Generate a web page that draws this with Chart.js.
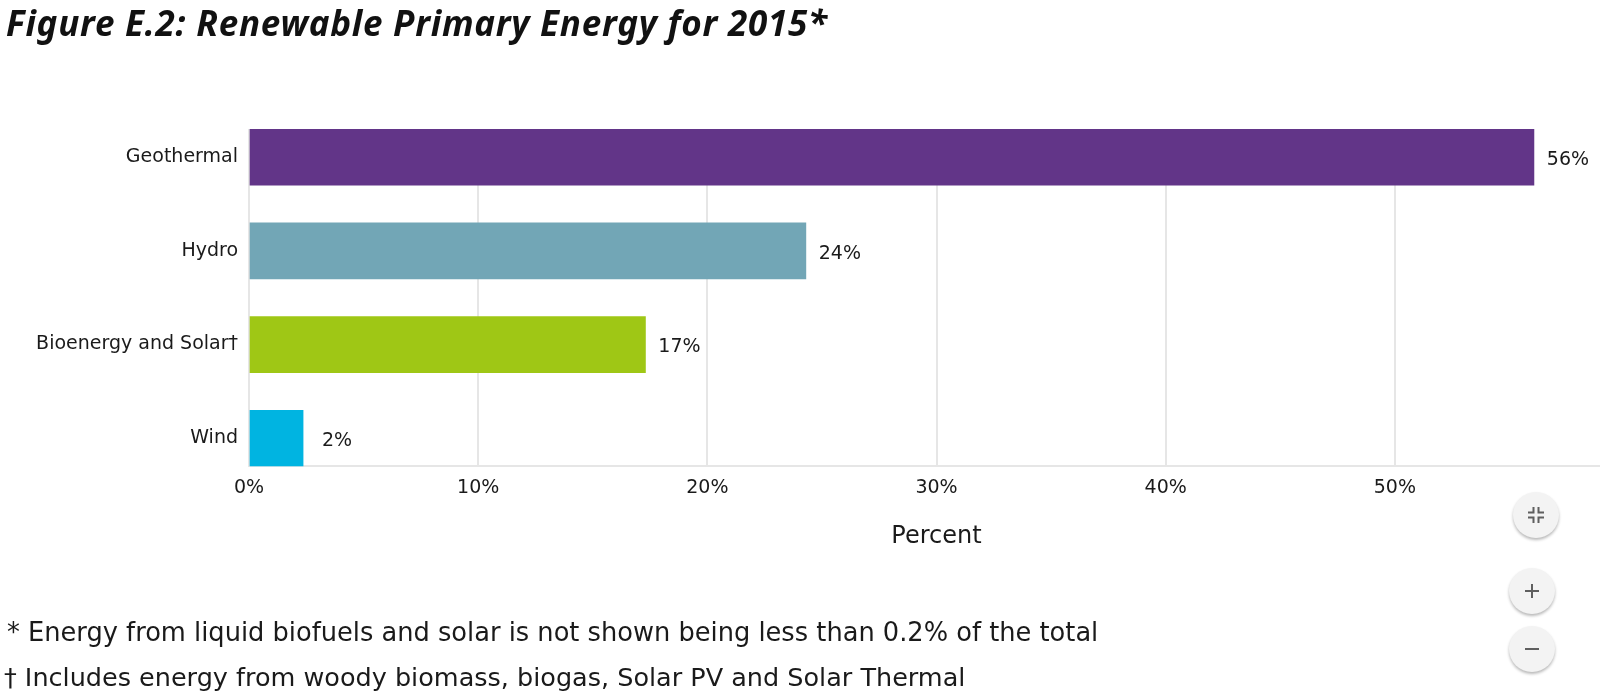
<!DOCTYPE html>
<html>
<head>
<meta charset="utf-8">
<script src="https://cdn.jsdelivr.net/npm/chart.js@4"></script>
<style>
  html, body { margin: 0; padding: 0; background: #fff; }
  body { width: 1600px; height: 699px; position: relative; overflow: hidden; font-family: "DejaVu Sans", sans-serif; color: #1a1a1a; }
  #wrap { position: absolute; left: 0; top: 0; width: 1624px; height: 699px; }
  h1 { position: absolute; left: 6px; top: -1px; margin: 0; font-family: "Noto Sans", sans-serif; font-size: 35px; letter-spacing: .75px; font-style: italic; font-weight: 700; color: #111; white-space: nowrap; }
  .note { position: absolute; margin: 0; font-size: 25.7px; white-space: nowrap; }
  .btn { position: absolute; width: 46px; height: 46px; border-radius: 50%; background: #f3f3f3; box-shadow: 0 2px 3px rgba(0,0,0,.28); }
  .btn svg { position: absolute; left: 11px; top: 11px; width: 24px; height: 24px; fill: none; stroke: #5f5f5f; stroke-width: 2; }
</style>
</head>
<body>
<div id="wrap"><canvas id="chart" width="1624" height="699"></canvas></div>
<h1>Figure E.2: Renewable Primary Energy for 2015*</h1>
<p class="note" style="left:7px;top:617px">* Energy from liquid biofuels and solar is not shown being less than 0.2% of the total</p>
<p class="note" style="left:4px;top:662px;font-size:25.5px">† Includes energy from woody biomass, biogas, Solar PV and Solar Thermal</p>
<div class="btn" style="left:1513px;top:492px"><svg viewBox="0 0 24 24"><path d="M9.5 4v5.5H4M14.5 4v5.5H20M9.5 20v-5.5H4M14.5 20v-5.5H20"/></svg></div>
<div class="btn" style="left:1509px;top:568px"><svg viewBox="0 0 24 24"><path d="M12 5v14M5 12h14"/></svg></div>
<div class="btn" style="left:1509px;top:626px"><svg viewBox="0 0 24 24"><path d="M5 12h14"/></svg></div>
<script>
const categories = ['Geothermal', 'Hydro', 'Bioenergy and Solar†', 'Wind'];
const percentValues = [56.07, 24.3, 17.3, 2.36];
const valueLabels = ['56%', '24%', '17%', '2%'];
const barColors = ['#623588', '#72a6b6', '#9fc715', '#00b4e1'];
const xTicks = [0, 10, 20, 30, 40, 50];
const labelFont = '"DejaVu Sans"';

// prints the rounded value just right of each bar, centred on a fixed offset
const barLabels = {
  id: 'barLabels',
  afterDatasetsDraw(chart) {
    const ctx = chart.ctx;
    ctx.save();
    ctx.font = '19px ' + labelFont;
    ctx.fillStyle = '#1a1a1a';
    ctx.textAlign = 'center';
    ctx.textBaseline = 'middle';
    chart.getDatasetMeta(0).data.forEach((bar, i) => {
      ctx.fillText(valueLabels[i], bar.x + 34, bar.y + 3);
    });
    ctx.restore();
  }
};

new Chart(document.getElementById('chart'), {
  type: 'bar',
  plugins: [barLabels],
  data: {
    datasets: [{
      data: percentValues.map((v, i) => ({ x: v, y: i })),
      backgroundColor: barColors,
      barThickness: 56
    }]
  },
  options: {
    indexAxis: 'y',
    responsive: false,
    animation: false,
    layout: { padding: { left: 0, right: 0, top: 129, bottom: 144 } },
    plugins: { legend: { display: false }, tooltip: { enabled: false } },
    scales: {
      x: {
        type: 'linear',
        min: 0,
        max: 60,
        afterBuildTicks: axis => { axis.ticks = xTicks.map(v => ({ value: v })); },
        grid: { color: '#e6e6e6', lineWidth: 2, drawTicks: false },
        border: { color: '#e6e6e6', width: 2 },
        ticks: { color: '#1a1a1a', font: { size: 19, family: labelFont }, padding: 10, maxRotation: 0, callback: v => v + '%' },
        title: { display: true, text: 'Percent', color: '#1a1a1a', font: { size: 24, family: labelFont }, padding: { top: 13 } }
      },
      y: {
        type: 'linear',
        reverse: true,
        offset: false,
        min: -0.3,
        max: 3.3,
        afterFit: axis => { axis.width = 249; },
        afterBuildTicks: axis => { axis.ticks = categories.map((c, i) => ({ value: i })); },
        grid: { display: false, offset: false },
        border: { display: false },
        ticks: { color: '#1a1a1a', font: { size: 19, family: labelFont }, padding: 3, autoSkip: false, callback: v => categories[v] }
      }
    }
  }
});
</script>
</body>
</html>
